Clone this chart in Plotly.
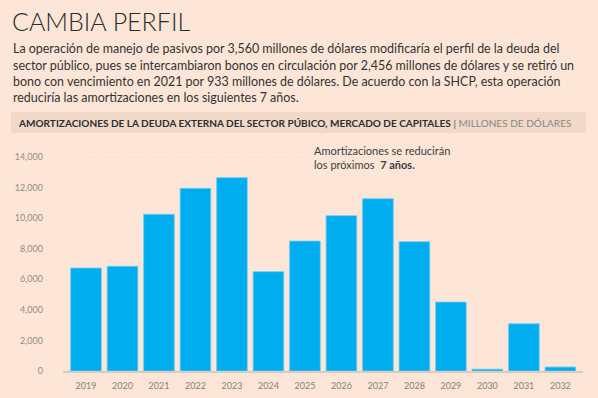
import plotly.graph_objects as go

years = ["2019", "2020", "2021", "2022", "2023", "2024", "2025", "2026",
         "2027", "2028", "2029", "2030", "2031", "2032"]
amortizaciones = [6740, 6850, 10250, 11950, 12650, 6500, 8500, 10160,
                  11270, 8460, 4510, 120, 3090, 260]
y_ticks = [0, 2000, 4000, 6000, 8000, 10000, 12000, 14000]
y_tick_labels = ["0", "2,000", "4,000", "6,000", "8,000", "10,000", "12,000", "14,000"]

W, H = 598, 398
L, R, T, B = 63, 15, 157, 27
PW, PH = W - L - R, H - T - B
BG = "#FDE6D7"
FONT = "Lato"


def px(x):
    return (x - L) / PW


def py(y):
    return (H - B - y) / PH


fig = go.Figure()
fig.add_trace(go.Bar(
    x=list(range(len(years))), y=amortizaciones,
    marker=dict(color="#00ADEE", line=dict(color="#6CCDF2", width=0.8)),
    hoverinfo="skip",
))

annotations = [
    dict(text="CAMBIA PERFIL", x=px(10), y=py(21), xanchor="left", yanchor="middle",
         font=dict(family="Lato", size=25, color="#2b2b2b", weight=300)),
]
para = [
    "La operación de manejo de pasivos por 3,560 millones de dólares modificaría el perfil de la deuda del",
    "sector público, pues se intercambiaron bonos en circulación por 2,456 millones de dólares y se retiró un",
    "bono con vencimiento en 2021 por 933 millones de dólares. De acuerdo con la SHCP, esta operación",
    "reduciría las amortizaciones en los siguientes 7 años.",
]
for i, line in enumerate(para):
    annotations.append(dict(text=line, x=px(11), y=py(49 + i * 16.3), xanchor="left",
                            yanchor="middle",
                            font=dict(family=FONT, size=12.45, color="#333333")))
annotations.append(dict(
    text="<b>AMORTIZACIONES DE LA DEUDA EXTERNA DEL SECTOR PÚBICO, MERCADO DE CAPITALES</b>"
         " <span style='color:#555'>|</span> <span style='color:#8c8580'>MILLONES DE DÓLARES</span>",
    x=px(16), y=py(123), xanchor="left", yanchor="middle",
    font=dict(family=FONT, size=10.05, color="#2e2e2e")))
annotations.append(dict(
    text="Amortizaciones se reducirán<br>los próximos  <b>7 años.</b>",
    x=px(312), y=py(157), xanchor="left", yanchor="middle", align="left",
    font=dict(family=FONT, size=11.0, color="#3d3d3d")))
for a in annotations:
    a.update(xref="paper", yref="paper", showarrow=False)

shapes = [
    dict(type="rect", xref="paper", yref="paper", x0=px(11), x1=px(586),
         y0=py(133), y1=py(112), fillcolor="#F0D9C8", line=dict(width=0), layer="below"),
    dict(type="line", xref="x", yref="y", x0=0.02, x1=5.95, y0=14000, y1=14000,
         line=dict(color="#E6D0C2", width=1, dash="dot"), layer="below"),
]

fig.update_layout(
    width=W, height=H,
    margin=dict(l=L, r=R, t=T, b=B, autoexpand=False),
    paper_bgcolor=BG, plot_bgcolor=BG,
    showlegend=False, bargap=0.16,
    annotations=annotations, shapes=shapes,
    xaxis=dict(range=[-0.63, 13.62], tickmode="array", tickvals=list(range(len(years))),
               ticktext=years, showgrid=False, zeroline=False, showline=True,
               linecolor="#DCCABE", linewidth=1.5, ticks="", ticklabelstandoff=5,
               automargin=False,
               tickfont=dict(family=FONT, size=9, color="#8a807a"), fixedrange=True),
    yaxis=dict(range=[0, 14000], tickmode="array", tickvals=y_ticks, ticktext=y_tick_labels,
               showgrid=False, zeroline=False, showline=False, ticks="",
               ticklabelstandoff=19, automargin=False,
               tickfont=dict(family=FONT, size=9, color="#958a83"), fixedrange=True),
)

fig.write_html(
    "out.html",
    config={"displayModeBar": False},
    post_script="document.body.style.margin='0';document.body.style.background='" + BG + "';",
)
